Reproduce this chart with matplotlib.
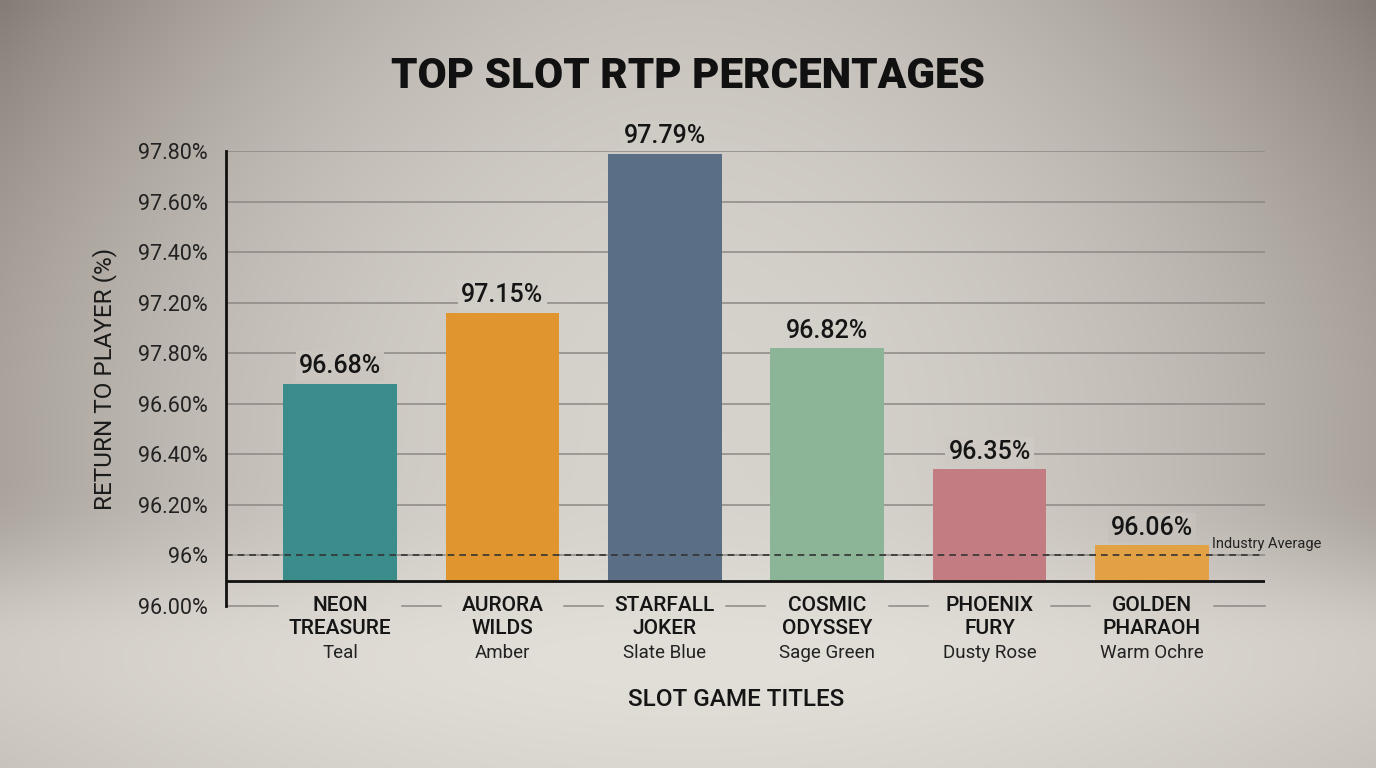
import numpy as np
import matplotlib.pyplot as plt
from matplotlib.transforms import blended_transform_factory

plt.rcParams['font.family'] = ['Roboto', 'DejaVu Sans']

# Data
games = ['NEON\nTREASURE', 'AURORA\nWILDS', 'STARFALL\nJOKER',
         'COSMIC\nODYSSEY', 'PHOENIX\nFURY', 'GOLDEN\nPHARAOH']
color_names = ['Teal', 'Amber', 'Slate Blue', 'Sage Green', 'Dusty Rose', 'Warm Ochre']
bar_colors = ['#3a8d8b', '#e0952e', '#5a6e86', '#8cb597', '#c37c81', '#e3a146']
rtp_heights = [96.68, 96.96, 97.59, 96.82, 96.34, 96.04]  # as drawn
rtp_labels = ['96.68%', '97.15%', '97.79%', '96.82%', '96.35%', '96.06%']  # as printed
tick_values = [95.8, 96.0, 96.2, 96.4, 96.6, 96.8, 97.0, 97.2, 97.4, 97.6]
tick_labels = ['96.00%', '96%', '96.20%', '96.40%', '96.60%',
               '97.80%', '97.20%', '97.40%', '97.60%', '97.80%']
industry_avg = 96.0
base = 95.9

W, H = 1376, 768
fig = plt.figure(figsize=(W / 100, H / 100), dpi=100)


# vignette background, fy measured from the top
def bg_color(fx, fy):
    dx = (fx - 0.5) / 0.5
    dy = (fy - 0.55) / 0.55
    s = np.clip((fy - 0.62) / 0.22, 0, 1)
    s = s * s * (3 - 2 * s)
    w = 0.55 * dx**2 * (1 - 0.6 * s) + 0.2 * dy**2 * (1 - s) + 0.25 * dx**2 * dy**2 * (1 - s)
    w = np.clip(w, 0, 1)
    center = np.array([214, 210, 204])
    edge = np.array([133, 125, 117])
    c = center * (1 - w[..., None]) + edge * w[..., None]
    c = c + 12 * np.exp(-((fy - 0.86) / 0.14) ** 2)[..., None]
    return np.clip(c / 255.0, 0, 1)


gx, gy = np.meshgrid(np.linspace(0, 1, 344), np.linspace(0, 1, 192))
bg_ax = fig.add_axes([0, 0, 1, 1], zorder=-10)
bg_ax.imshow(bg_color(gx, gy), aspect='auto', extent=[0, 1, 0, 1], interpolation='bicubic')
bg_ax.axis('off')
fig.patch.set_facecolor('#d6d2cc')

ax = fig.add_axes([226 / W, 1 - 606 / H, (1265 - 226) / W, (606 - 151) / H])
ax.patch.set_alpha(0)

x = np.arange(len(games))
bar_w = 0.70
ax.bar(x, np.array(rtp_heights) - base, bottom=base, width=bar_w,
       color=bar_colors, zorder=2)

ax.set_xlim(-0.702, 5.696)
ax.set_ylim(95.8, 97.6)
ax.set_yticks(tick_values)
ax.set_yticklabels(tick_labels, fontsize=15.5, color='#222222')
ax.tick_params(axis='y', length=0, pad=13)
ax.set_xticks([])

# gridlines; the bottom one is broken under the category labels
grid_kw = dict(color='#8d8883', linewidth=1.1, zorder=0)
for tv in tick_values[1:]:
    ax.axhline(tv, **grid_kw)
gap_edges = [ax.get_xlim()[0]] + [xi + v for xi in x for v in (-bar_w / 2 - 0.03, bar_w / 2 + 0.03)] + [ax.get_xlim()[1]]
for a, b in zip(gap_edges[0::2], gap_edges[1::2]):
    ax.plot([a, b], [tick_values[0]] * 2, clip_on=False, **grid_kw)

for s in ['top', 'right', 'bottom']:
    ax.spines[s].set_visible(False)
ax.spines['left'].set_linewidth(2)
ax.spines['left'].set_color('#111111')
ax.spines['left'].set_zorder(5)

# baseline and industry average
ax.axhline(base, color='#111111', linewidth=2, zorder=3)
ax.axhline(industry_avg, xmax=0.996, color='#333333', linewidth=1.2,
           linestyle=(0, (4, 3)), zorder=3)
ax.text(5.37, industry_avg + 0.047, 'Industry Average', fontsize=10.5,
        color='#222222', ha='left', va='center', zorder=4)

# value labels
for xi, h, lab in zip(x, rtp_heights, rtp_labels):
    fx = (340 + 162.4 * xi) / W
    fy = (556 - (h - 96.0) * 252.8 - 20) / H
    ax.annotate(lab, (xi, h), xytext=(0, 4), textcoords='offset points',
                ha='center', va='bottom', fontsize=18, fontweight='medium',
                color='#151515', zorder=4,
                bbox=dict(boxstyle='square,pad=0.12', fc=bg_color(np.array(fx), np.array(fy)),
                          ec='none'))

# category labels
trans = blended_transform_factory(ax.transData, ax.transAxes)
for xi, name, cname in zip(x, games, color_names):
    ax.text(xi, -0.024, name, transform=trans, ha='center', va='center',
            fontsize=15, fontweight='medium', color='#151515', linespacing=1.25)
    ax.text(xi, -0.104, cname, transform=trans, ha='center', va='center',
            fontsize=13.5, color='#222222')

ax.set_ylabel('RETURN TO PLAYER (%)', fontsize=17.5, color='#1a1a1a', labelpad=15)
fig.text(736 / W, 1 - 699 / H, 'SLOT GAME TITLES', ha='center', va='center',
         fontsize=17.5, fontweight='medium', color='#151515')
fig.text(688 / W, 1 - 77 / H, 'TOP SLOT RTP PERCENTAGES', ha='center', va='center',
         fontsize=30.3, fontweight='heavy', color='#111111')

fig.savefig('out.png', dpi=100)
